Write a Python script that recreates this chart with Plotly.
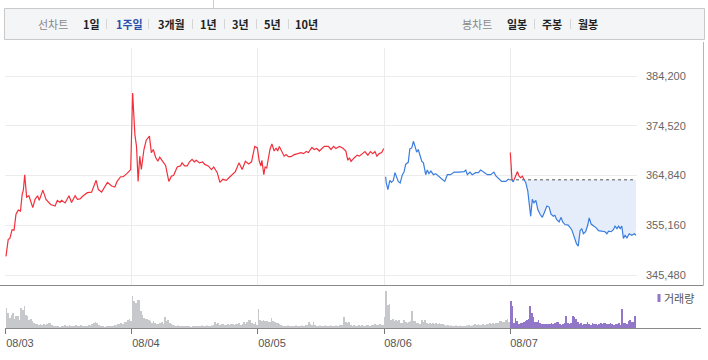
import plotly.graph_objects as go

# ---------------- data ----------------
days = ["08/03", "08/04", "08/05", "08/06", "08/07"]
SESSION = 390  # minutes per trading session

# price points per day: minutes since open, price (KRW)
d1_t = [0, 7, 12, 19, 25, 31, 38, 45, 50, 54, 58, 64, 71, 83, 90, 98, 103, 114, 124, 138, 152, 159, 167, 172, 183,
        195, 203, 214, 221, 229, 239, 252, 265, 279, 286, 296, 314, 327, 337, 344, 355, 363, 374, 386]
d1_p = [349100, 352400, 352600, 354300, 354200, 357300, 358100, 357900, 361100, 362100, 365000, 360600, 360900,
        358600, 360200, 360900, 360000, 362000, 360200, 359200, 358900, 360000, 359600, 360000, 359500, 360900,
        359600, 360900, 360200, 360300, 360900, 361500, 361600, 363900, 362100, 361600, 363500, 362800, 362600,
        363700, 364600, 364600, 365200, 366000]

d2_t = [2, 9, 14, 19, 24, 29, 37, 44, 54, 60, 66, 73, 80, 86, 95, 104, 114, 122, 129, 140, 150, 155, 163, 171, 178,
        186, 193, 199, 209, 219, 225, 236, 246, 253, 264, 272, 281, 292, 300, 310, 320, 331, 341, 351, 361, 370, 380, 388]
d2_p = [380900, 372800, 370500, 363700, 368600, 366000, 369900, 371700, 372500, 369300, 369900, 368400, 367600,
        368400, 367600, 366800, 363700, 364700, 364900, 366500, 366700, 367300, 366700, 366700, 367500, 368000,
        367500, 367800, 367300, 367500, 367000, 366700, 366000, 366500, 365400, 363500, 364100, 363900, 364400,
        365000, 365600, 367300, 366000, 367600, 367100, 367500, 370500, 370200]

d3_t = [4, 9, 12, 18, 22, 27, 32, 37, 43, 50, 56, 61, 66, 73, 81, 87, 94, 102, 112, 123, 133, 141, 149, 156, 167,
        174, 182, 190, 197, 205, 218, 226, 234, 241, 252, 262, 272, 278, 283, 288, 298, 307, 314, 324, 331, 340,
        348, 355, 362, 368, 375, 383, 389]
d3_p = [367600, 366700, 367800, 365000, 366500, 366300, 368600, 369900, 371000, 369600, 370200, 369600, 370500,
        369600, 368600, 368900, 368500, 368500, 368900, 369100, 369300, 369100, 369500, 369300, 370300, 369900,
        370100, 369600, 370100, 370500, 370500, 369900, 370500, 370100, 370500, 370200, 369600, 367800, 368300,
        367600, 368300, 368800, 368600, 369100, 369500, 368800, 369500, 369100, 369500, 368600, 369100, 369300, 370100]

d4_t = [5, 7, 12, 18, 23, 29, 34, 39, 44, 50, 57, 62, 67, 75, 80, 86, 91, 96, 101, 106, 111, 117, 122, 129, 134,
        139, 145, 153, 160, 168, 178, 188, 196, 206, 217, 232, 248, 253, 258, 266, 273, 284, 292, 299, 310, 320,
        330, 340, 347, 356, 364, 377, 385, 389]
d4_p = [364600, 363400, 362100, 363900, 363500, 363900, 365400, 364600, 363700, 363400, 365000, 365500, 367000,
        367400, 370000, 370200, 371500, 370500, 369400, 369900, 368600, 367600, 367300, 365000, 365900, 365200,
        365700, 365000, 365200, 364700, 364200, 363700, 365000, 365000, 365500, 365500, 365600, 365900, 365000,
        365500, 365000, 365400, 365400, 365900, 365400, 365000, 365000, 365500, 364700, 364200, 363700, 363700,
        364100, 364000]

d5_t = [1, 5, 10, 15, 23, 28, 33, 38, 43, 49, 55, 60, 64, 69, 74, 80, 86, 93, 100, 106, 114, 121, 127, 134, 139,
        144, 152, 158, 163, 170, 180, 191, 199, 206, 211, 217, 222, 227, 234, 241, 245, 251, 259, 266, 274, 285,
        294, 300, 305, 313, 320, 325, 331, 336, 341, 346, 351, 356, 362, 369, 377, 385, 390]
d5_p = [369300, 364100, 363600, 364400, 365600, 364700, 364400, 364700, 364100, 363400, 361800, 359500, 356900,
        360200, 359500, 360000, 358200, 357300, 356700, 357600, 358900, 358700, 357300, 356900, 357100, 356300,
        355800, 356700, 355800, 355300, 355200, 354300, 352700, 351500, 351100, 354100, 354500, 353500, 353900,
        355300, 356600, 355400, 355000, 354700, 354100, 354000, 353900, 353500, 354000, 353900, 354300, 355000,
        354500, 355000, 354500, 355000, 352600, 353200, 352700, 353500, 353200, 353500, 353200]

prev_close = 364000  # reference price for 08/07

# 5-minute volume (thousand shares)
vol_d1 = [20, 15, 10, 13, 15, 9, 12, 12, 8, 20, 18, 22, 13, 12, 8, 9, 7, 5, 4, 4, 3, 4, 3, 4, 3, 4, 5,
          5, 3, 2, 2, 1.5, 2, 1, 2, 1.5, 3, 2, 1.5, 3, 2, 1.5, 2, 3, 1.5, 2, 3, 2, 1.5, 2, 2, 3, 2.5,
          4, 5, 6, 5, 3, 2, 1.5, 2, 1, 2, 1.5, 2, 1.5, 2, 3, 2.5, 4, 4, 5, 4, 6, 6, 8, 9, 7]
vol_d2 = [32, 27, 25, 28, 28, 17, 13, 10, 9, 9, 8, 7, 5, 7, 5, 4, 4, 5, 6, 4, 11, 7, 8, 5, 4,
          3, 2.5, 2, 2.5, 1.5, 2, 1.5, 2, 1.5, 2, 1.5, 1, 2, 1.5, 2, 1.5, 2, 1.5, 2.5, 2, 1.5, 2.5, 2, 1.5, 2.5, 3,
          6, 4, 5, 3, 4, 4, 3, 3, 4, 3, 4, 4, 3, 4, 4, 5, 3, 4, 6, 4, 6, 8, 8, 5, 4, 6, 3]
vol_d3 = [19, 8, 7, 8, 7, 7, 6, 6, 10, 7, 6, 5, 5, 4,
          3, 2, 1.5, 2, 2.5, 1.5, 2, 1.5, 2, 2.5, 1.5, 2, 1.5, 2.5, 2, 3, 3, 6, 4, 3, 6,
          3, 2, 1.5, 2.5, 2, 1.5, 2.5, 2, 1.5, 2, 2.5, 2, 1.5, 2.5, 2, 3, 3, 3, 11, 6, 5, 6,
          3, 2, 3, 2, 2, 3, 2, 3, 2, 2, 3, 3, 2, 3, 3, 4, 3, 3, 4, 3, 3]
vol_d4 = [11, 37, 23, 24, 8, 9, 7, 8, 7, 8, 5, 5, 8, 6, 5, 6, 7, 17, 7, 7, 5, 5, 4, 8, 6, 8, 5, 4, 5, 4, 5, 4,
          5, 4, 5, 4, 4, 3, 2.5, 3, 2, 2.5, 1.5, 2, 2.5, 1.5, 2, 2.5, 2, 1.5, 2, 2.5, 3, 2, 2.5, 3,
          4, 3, 4, 3, 3, 4, 3, 4, 4, 5, 4, 5, 4, 5, 5, 7, 7, 6, 6, 8, 9, 6]
vol_d5 = [27, 22, 5, 10, 7, 4, 5, 5, 6, 7, 8, 9, 22, 15, 11, 6, 6, 8, 5, 4, 4, 4, 4, 4, 4, 5, 4, 5, 6, 6,
          4, 3, 4, 5, 12, 5, 4, 5, 12, 11, 9, 6, 4, 5, 3, 4, 4, 6, 4, 3, 5, 4, 4, 3, 4, 5, 4, 5, 5, 4,
          4, 5, 4, 3, 4, 4, 5, 3, 19, 5, 5, 4, 7, 8, 6, 6, 12]

y_ticks = [345480, 355160, 364840, 374520, 384200]

# ---------------- layout helpers ----------------
W, H = 708, 360
L, R, T, B = 5, 71, 48, 32
PW, PH = W - L - R, H - T - B


def px(x):
    return (x - L) / PW


def py(y):
    return (H - B - y) / PH


RED = "#f2303c"
BLUE = "#3a7ddf"
GRAY_BAR = "#c7c8cc"
PURPLE = "#9277c9"
GRID = "#ececec"

fig = go.Figure()

# red line: 08/03 - 08/05
rx, ry = [], []
for d, (ts, ps) in enumerate([(d1_t, d1_p), (d2_t, d2_p), (d3_t, d3_p)]):
    rx += [d * SESSION + t for t in ts]
    ry += ps
fig.add_trace(go.Scatter(x=rx, y=ry, mode="lines", line=dict(color=RED, width=1.2), hoverinfo="skip"))

# blue line: 08/06
fig.add_trace(go.Scatter(x=[3 * SESSION + t for t in d4_t], y=d4_p, mode="lines",
                         line=dict(color=BLUE, width=1.2), hoverinfo="skip"))

# 08/07: split around previous close
xs, ys = [4 * SESSION + d5_t[0]], [d5_p[0]]
for i in range(1, len(d5_t)):
    p0, p1 = d5_p[i - 1], d5_p[i]
    if (p0 - prev_close) * (p1 - prev_close) < 0:
        f = (prev_close - p0) / (p1 - p0)
        xs.append(4 * SESSION + d5_t[i - 1] + f * (d5_t[i] - d5_t[i - 1]))
        ys.append(prev_close)
    xs.append(4 * SESSION + d5_t[i])
    ys.append(d5_p[i])

base_x = [4 * SESSION, 5 * SESSION]
fig.add_trace(go.Scatter(x=base_x, y=[prev_close, prev_close], mode="lines",
                         line=dict(width=0, color="rgba(0,0,0,0)"), hoverinfo="skip"))
fig.add_trace(go.Scatter(x=xs, y=[min(v, prev_close) for v in ys], mode="lines",
                         line=dict(width=0, color="rgba(0,0,0,0)"), fill="tonexty",
                         fillcolor="#e4edf9", hoverinfo="skip"))
fig.add_trace(go.Scatter(x=base_x, y=[prev_close, prev_close], mode="lines",
                         line=dict(width=1, color="#555555", dash="dot"), hoverinfo="skip"))
fig.add_trace(go.Scatter(x=xs, y=[v if v <= prev_close else None for v in ys], mode="lines",
                         line=dict(color=BLUE, width=1.2), connectgaps=False, hoverinfo="skip"))
fig.add_trace(go.Scatter(x=xs, y=[v if v >= prev_close else None for v in ys], mode="lines",
                         line=dict(color=RED, width=1.2), connectgaps=False, hoverinfo="skip"))

# volume bars
vx, vy, vc = [], [], []
for d, vols in enumerate([vol_d1, vol_d2, vol_d3, vol_d4, vol_d5]):
    n = len(vols)
    for i, v in enumerate(vols):
        vx.append(d * SESSION + 2 + i * SESSION / n)
        vy.append(v)
        vc.append(PURPLE if d == 4 else GRAY_BAR)
fig.add_trace(go.Bar(x=vx, y=vy, xaxis="x2", yaxis="y2", width=2.2,
                     marker=dict(color=vc, line=dict(width=0)), hoverinfo="skip"))

AX_FONT = dict(family="Liberation Sans, Arial, sans-serif", size=11, color="#666666")

fig.update_layout(
    width=W, height=H,
    margin=dict(l=L, r=R, t=T, b=B, pad=0),
    plot_bgcolor="white", paper_bgcolor="white",
    showlegend=False,
    xaxis=dict(domain=[0, 1], anchor="y", range=[-3, 5 * SESSION + 3],
               tickvals=[SESSION * k for k in range(1, 5)], showticklabels=False,
               showgrid=True, gridcolor=GRID, gridwidth=1, ticks="", zeroline=False, showline=False,
               fixedrange=True),
    yaxis=dict(domain=[py(285), 1], anchor="x", side="right",
               range=[343534, 389648], tickvals=y_ticks, ticktext=[f"{v:,}" for v in y_ticks],
               showgrid=True, gridcolor=GRID, gridwidth=1, zeroline=False, showline=False, ticks="",
               ticklabelstandoff=8, tickfont=AX_FONT, fixedrange=True),
    xaxis2=dict(domain=[0, 1], anchor="y2", matches="x",
                tickvals=[SESSION * k for k in range(5)], ticktext=days,
                ticks="outside", ticklen=5, tickcolor="#777777", tickwidth=1,
                showgrid=False, zeroline=False, showline=False,
                ticklabelshift=14, tickfont=dict(family="Liberation Sans, Arial, sans-serif", size=11, color="#555555"),
                fixedrange=True),
    yaxis2=dict(domain=[0, py(286)], anchor="x2", range=[0, 42], showticklabels=False,
                showgrid=False, zeroline=False, showline=False, fixedrange=True),
)

shapes = []
# toolbar box
shapes.append(dict(type="rect", xref="paper", yref="paper", x0=px(4.5), x1=px(704.5), y0=py(39.5), y1=py(8.5),
                   fillcolor="#f4f5f7", line=dict(color="#c9c9c9", width=1), layer="below"))
shapes.append(dict(type="line", xref="paper", yref="paper", x0=px(213.5), x1=px(213.5), y0=py(0), y1=py(8),
                   line=dict(color="#cccccc", width=1)))
for sx in [106, 148, 192, 224, 256, 288, 534, 570]:
    shapes.append(dict(type="line", xref="paper", yref="paper", x0=px(sx + 0.5), x1=px(sx + 0.5),
                       y0=py(29), y1=py(19), line=dict(color="#d6d6d6", width=1)))
# pane frame lines
shapes.append(dict(type="line", xref="paper", yref="paper", x0=px(0), x1=px(703.5), y0=py(285.5), y1=py(285.5),
                   line=dict(color="#8a8a8a", width=1)))
shapes.append(dict(type="line", xref="paper", yref="paper", x0=px(703.5), x1=px(703.5), y0=py(285.5), y1=py(42),
                   line=dict(color="#b5b5b5", width=1)))
shapes.append(dict(type="line", xref="paper", yref="paper", x0=px(5), x1=px(701), y0=py(328.5), y1=py(328.5),
                   line=dict(color="#8a8a8a", width=1)))
# volume legend marker
shapes.append(dict(type="rect", xref="paper", yref="paper", x0=px(657.5), x1=px(660.5), y0=py(302), y1=py(294),
                   fillcolor=PURPLE, line=dict(width=0)))
fig.update_layout(shapes=shapes)

KR = "Noto Sans CJK KR, sans-serif"
annotations = []
toolbar = [
    ("선차트", 53, "#888888", False), ("1일", 91, "#222222", True), ("1주일", 129, "#2a4fae", True),
    ("3개월", 171, "#222222", True), ("1년", 208, "#222222", True), ("3년", 240, "#222222", True),
    ("5년", 272, "#222222", True), ("10년", 306, "#222222", True),
    ("봉차트", 476.5, "#888888", False), ("일봉", 516.5, "#222222", True), ("주봉", 552, "#222222", True),
    ("월봉", 588, "#222222", True),
]
for txt, cx, col, bold in toolbar:
    annotations.append(dict(xref="paper", yref="paper", x=px(cx), y=py(24), text=f"<b>{txt}</b>" if bold else txt,
                            showarrow=False, xanchor="center", yanchor="middle",
                            font=dict(family=KR, size=11, color=col)))
annotations.append(dict(xref="paper", yref="paper", x=px(662), y=py(298), text="거래량", showarrow=False,
                        xanchor="left", yanchor="middle", font=dict(family=KR, size=11, color="#555555")))
fig.update_layout(annotations=annotations)

fig.write_html("out.html", config={"displayModeBar": False},
               post_script="document.body.style.margin='0';document.body.style.padding='0';")
